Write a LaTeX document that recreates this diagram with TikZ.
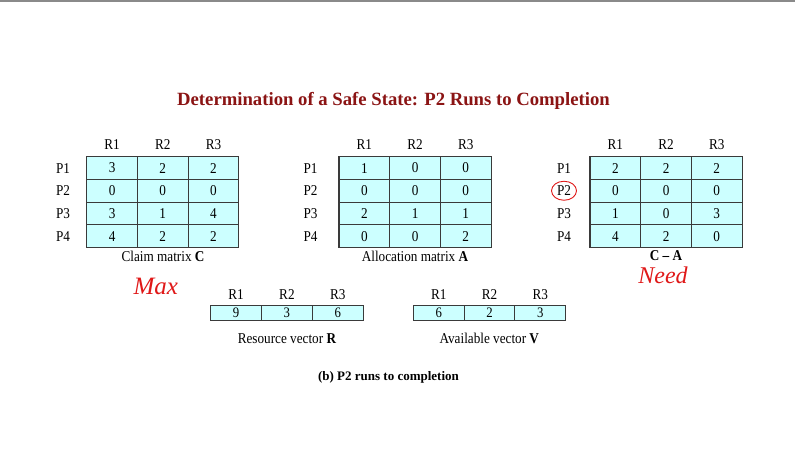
\documentclass[tikz,border=0pt]{standalone}
\usepackage{fontspec}
\setmainfont{Liberation Serif}
\newfontfamily\narrowfont{Liberation Serif}[FakeStretch=0.88,Ligatures=TeX]
\definecolor{cellfill}{HTML}{CCFFFF}
\definecolor{gridline}{HTML}{3A3A3A}
\definecolor{titlered}{HTML}{8B1414}
\definecolor{notered}{HTML}{E01818}
\definecolor{topline}{HTML}{8A8A8A}
\tikzset{
  cell/.style={draw=gridline, fill=cellfill, line width=1.1pt, minimum width=50.7pt,
    minimum height=22.7pt, inner sep=0pt, font=\narrowfont\fontsize{15}{15}\selectfont},
  vcell/.style={cell, minimum width=50.8pt, minimum height=14.5pt, font=\narrowfont\fontsize{14.5}{14.5}\selectfont},
  lbl/.style={inner sep=0pt, font=\narrowfont\fontsize{15}{15}\selectfont},
  note/.style={inner sep=0pt, text=notered, font=\fontsize{25}{25}\selectfont\itshape},
}
\newcommand\drawmat[4]{% x0, name, P-label x, rows
  \foreach \r/\vals in {#4} {
    \node[lbl] (#2-p\r) at (#3, 156.7+\r*22.7-11.35) {P\r};
    \foreach \v [count=\c] in \vals {
      \node[cell] (#2-\r-\c) at (#1+\c*50.7-25.35, 156.7+\r*22.7-11.35) {\v};
    }
  }
  \foreach \c in {1,2,3} {
    \node[lbl] (#2-h\c) at (#1+\c*50.7-25.35, 145) {R\c};
  }
}
\newcommand\drawvec[3]{% x0, name, vals
  \foreach \v [count=\c] in {#3} {
    \node[vcell] (#2-\c) at (#1+\c*50.8-25.4, 313) {\v};
    \node[lbl] (#2-h\c) at (#1+\c*50.8-25.4, 295) {R\c};
  }
}
\begin{document}
\begin{tikzpicture}[x=1pt,y=-1pt]
  \useasboundingbox (0,0) rectangle (795,453);
  \fill[white] (0,0) rectangle (795,453);
  \fill[topline] (0,0) rectangle (795,1.6);

  \node[inner sep=0pt, text=titlered, font=\bfseries\fontsize{18.7}{18.7}\selectfont] (title) at (393.5,101)
    {Determination of a Safe State: P2 Runs to Completion};

  \drawmat{86.7}{c}{63}{1/{3,2,2},2/{0,0,0},3/{3,1,4},4/{4,2,2}}
  \drawmat{339}{a}{310.5}{1/{1,0,0},2/{0,0,0},3/{2,1,1},4/{0,0,2}}
  \drawmat{590}{n}{564}{1/{2,2,2},2/{0,0,0},3/{1,0,3},4/{4,2,0}}

  \node[lbl] (ccap) at (163,256.7) {Claim matrix \textbf{C}};
  \node[lbl] (acap) at (415,256.7) {Allocation matrix \textbf{A}};
  \node[lbl] (ncap) at (666,256) {\textbf{C – A}};

  \node[note] (max) at (155.8,286) {Max};
  \node[note, font=\fontsize{24}{24}\selectfont\itshape] (need) at (663,275) {Need};
  \draw[notered, line width=0.9pt] (n-p2) ellipse (12.5 and 9.5);

  \drawvec{210.7}{r}{9,3,6}
  \drawvec{413.3}{v}{6,2,3}
  \node[lbl] (rcap) at (287,338.5) {Resource vector \textbf{R}};
  \node[lbl] (vcap) at (489.3,338.5) {Available vector \textbf{V}};

  \node[inner sep=0pt, font=\bfseries\fontsize{13}{13}\selectfont] (sub) at (388.5,377) {(b) P2 runs to completion};
\end{tikzpicture}
\end{document}
